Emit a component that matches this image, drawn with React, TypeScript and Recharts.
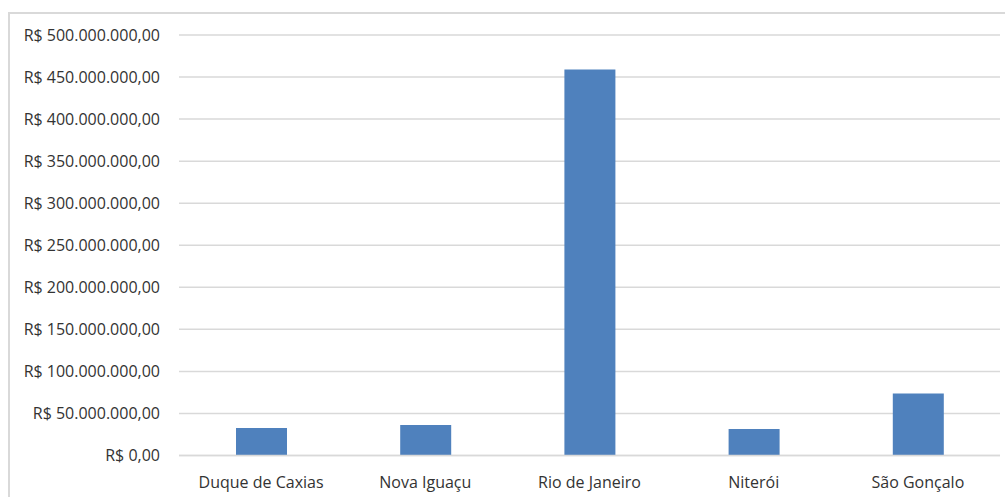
import React from "react";
import { BarChart, Bar, XAxis, YAxis, CartesianGrid } from "recharts";

// Municipalities and their amounts in reais
const cities = ["Duque de Caxias", "Nova Iguaçu", "Rio de Janeiro", "Niterói", "São Gonçalo"];
const amounts = [32700000, 36300000, 458900000, 31500000, 73600000];
const yTicks = [0, 50000000, 100000000, 150000000, 200000000, 250000000, 300000000, 350000000, 400000000, 450000000, 500000000];

const data = cities.map((city, i) => ({ city, amount: amounts[i] }));

// Brazilian currency format: R$ 1.234.567,00
const formatBRL = (v: number) => {
  const [intPart, dec] = v.toFixed(2).split(".");
  const grouped = intPart.replace(/\B(?=(\d{3})+(?!\d))/g, ".");
  return `R$ ${grouped},${dec}`;
};

const FONT = "'Open Sans', 'Noto Sans', sans-serif";
const TEXT = "#333333";
const GRID = "#d9d9d9";

export default function App() {
  return (
    <div style={{ position: "absolute", left: 0, top: 0, width: 1005, height: 497, background: "#fff", overflow: "hidden" }}>
      <div
        style={{
          position: "absolute",
          left: 8,
          top: 12,
          width: 1010,
          height: 500,
          border: `2px solid ${GRID}`,
          boxSizing: "border-box",
        }}
      />
      <div style={{ position: "absolute", left: 0, top: 0 }}>
        <BarChart
          width={1005}
          height={497}
          data={data}
          margin={{ top: 35, right: 5, bottom: 0, left: 0 }}
          barCategoryGap={0}
        >
          <CartesianGrid vertical={false} stroke={GRID} strokeWidth={1.5} />
          <XAxis
            dataKey="city"
            axisLine={{ stroke: GRID, strokeWidth: 1.5 }}
            tickLine={false}
            tickMargin={15}
            height={41.5}
            tick={{ fill: TEXT, fontSize: 16, fontFamily: FONT }}
            interval={0}
          />
          <YAxis
            width={179}
            domain={[0, 500000000]}
            ticks={yTicks}
            tickFormatter={formatBRL}
            axisLine={false}
            tickLine={false}
            tickSize={0}
            tickMargin={19}
            tick={{ fill: TEXT, fontSize: 16, fontFamily: FONT }}
          />
          <Bar dataKey="amount" fill="#4f81bd" barSize={51} isAnimationActive={false} />
        </BarChart>
      </div>
    </div>
  );
}
